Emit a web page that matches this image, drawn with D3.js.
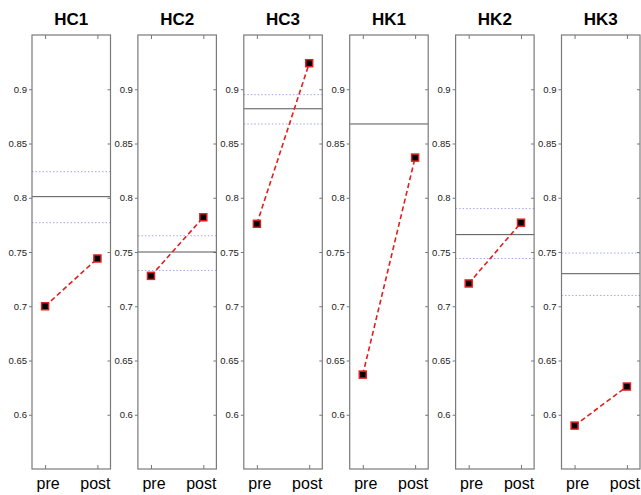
<!DOCTYPE html>
<html>
<head>
<meta charset="utf-8">
<script src="https://cdn.jsdelivr.net/npm/d3@7"></script>
<style>
  body { margin: 0; background: #fff; }
  svg { display: block; }
</style>
</head>
<body>
<script>
// values, one entry per panel
var groups = ["HC1", "HC2", "HC3", "HK1", "HK2", "HK3"];
var preVals = [0.700, 0.728, 0.776, 0.637, 0.721, 0.590];
var postVals = [0.744, 0.782, 0.924, 0.837, 0.777, 0.626];
var meanVals = [0.801, 0.750, 0.882, 0.868, 0.766, 0.730];
var upperVals = [0.824, 0.765, 0.895, null, 0.790, 0.749];
var lowerVals = [0.777, 0.733, 0.868, null, 0.744, 0.710];
var yTicks = [0.6, 0.65, 0.7, 0.75, 0.8, 0.85, 0.9];
var xLabels = ["pre", "post"];

var width = 641, height = 495;
var panelLeft = 32, panelStep = 105.9, panelW = 78.5;
var plotTop = 35, plotBottom = 469;

var svg = d3.select("body").append("svg")
    .attr("width", width)
    .attr("height", height);

var y = d3.scaleLinear().domain([0.55, 0.95]).range([plotBottom, plotTop]);
var x = d3.scaleLinear().domain([0.75, 2.25]).range([0, panelW]);

groups.forEach(function (name, i) {
    var g = svg.append("g")
        .attr("transform", "translate(" + (panelLeft + i * panelStep) + ",0)");

    // title
    g.append("text")
        .attr("x", panelW / 2)
        .attr("y", 25)
        .attr("text-anchor", "middle")
        .style("font", "bold 17px 'Liberation Sans', Arial, sans-serif")
        .text(name);

    // left axis with labels (ticks outside)
    var left = g.append("g")
        .call(d3.axisLeft(y).tickValues(yTicks).tickSize(3).tickPadding(2)
            .tickFormat(function (d) { return String(+d.toFixed(2)); }));
    left.select(".domain").remove();
    left.selectAll("line").attr("stroke", "#777");
    left.selectAll("text")
        .attr("fill", "#222")
        .style("font", "9.5px 'Liberation Sans', Arial, sans-serif");

    // right mirror ticks (inside)
    var right = g.append("g")
        .attr("transform", "translate(" + panelW + ",0)")
        .call(d3.axisRight(y).tickValues(yTicks).tickSize(-3).tickFormat(""));
    right.select(".domain").remove();
    right.selectAll("line").attr("stroke", "#777");

    // top and bottom ticks (inside)
    var topAx = g.append("g")
        .attr("transform", "translate(0," + plotTop + ")")
        .call(d3.axisTop(x).tickValues([1, 2]).tickSize(-4).tickFormat(""));
    topAx.select(".domain").remove();
    topAx.selectAll("line").attr("stroke", "#777");

    var botAx = g.append("g")
        .attr("transform", "translate(0," + plotBottom + ")")
        .call(d3.axisBottom(x).tickValues([1, 2]).tickSize(-4).tickFormat(""));
    botAx.select(".domain").remove();
    botAx.selectAll("line").attr("stroke", "#777");

    // x labels
    xLabels.forEach(function (lab, k) {
        g.append("text")
            .attr("x", x(k + 1) + (k === 0 ? 3 : -2))
            .attr("y", 489)
            .attr("text-anchor", "middle")
            .style("font", "16px 'Liberation Sans', Arial, sans-serif")
            .text(lab);
    });

    // dotted bounds
    [upperVals[i], lowerVals[i]].forEach(function (v) {
        if (v === null) return;
        g.append("line")
            .attr("x1", 0).attr("x2", panelW)
            .attr("y1", y(v)).attr("y2", y(v))
            .attr("stroke", "#a4a4e8")
            .attr("stroke-width", 1)
            .attr("stroke-dasharray", "1.5,2");
    });

    // mean line
    g.append("line")
        .attr("x1", 0).attr("x2", panelW)
        .attr("y1", y(meanVals[i])).attr("y2", y(meanVals[i]))
        .attr("stroke", "#555")
        .attr("stroke-width", 1);

    // box
    g.append("rect")
        .attr("x", 0).attr("y", plotTop)
        .attr("width", panelW).attr("height", plotBottom - plotTop)
        .attr("fill", "none")
        .attr("stroke", "#7a7a7a")
        .attr("stroke-width", 1.2);

    // pre -> post
    var pts = [[1, preVals[i]], [2, postVals[i]]];
    g.append("path")
        .datum(pts)
        .attr("d", d3.line().x(function (d) { return x(d[0]); }).y(function (d) { return y(d[1]); }))
        .attr("fill", "none")
        .attr("stroke", "#e0201e")
        .attr("stroke-width", 1.6)
        .attr("stroke-dasharray", "5,3");

    g.selectAll("rect.pt")
        .data(pts)
        .enter().append("rect")
        .attr("class", "pt")
        .attr("x", function (d) { return x(d[0]) - 3.5; })
        .attr("y", function (d) { return y(d[1]) - 3.5; })
        .attr("width", 7).attr("height", 7)
        .attr("fill", "#000")
        .attr("stroke", "#e0201e")
        .attr("stroke-width", 1.5);
});
</script>
</body>
</html>
